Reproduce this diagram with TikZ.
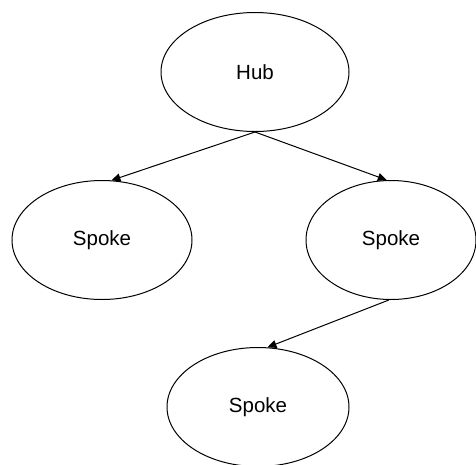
\documentclass[tikz,border=0pt]{standalone}
\usepackage{fontspec}
\setmainfont{Liberation Sans}
\usetikzlibrary{shapes.geometric,arrows.meta}
\begin{document}
\begin{tikzpicture}[x=1pt,y=-1pt,
  oval/.style={draw=black,line width=1pt,ellipse,inner sep=0pt,font=\fontsize{20.5}{22}\selectfont},
  link/.style={draw=black,line width=1pt,-{Triangle[length=9pt,width=8pt]}}]
\useasboundingbox (0,0) rectangle (476,464);
\node[oval,minimum width=188pt,minimum height=119pt] (hub) at (255,72) {Hub};
\node[oval,minimum width=180pt,minimum height=119pt] (l) at (102,240) {Spoke};
\node[oval,minimum width=170pt,minimum height=119pt] (r) at (391,240) {Spoke};
\node[oval,minimum width=182pt,minimum height=119pt] (b) at (258,407) {Spoke};
\draw[link] (hub.south) -- (l.81);
\draw[link] (hub.south) -- (r.94);
\draw[link] (r.268) -- (b.81);
\end{tikzpicture}
\end{document}
